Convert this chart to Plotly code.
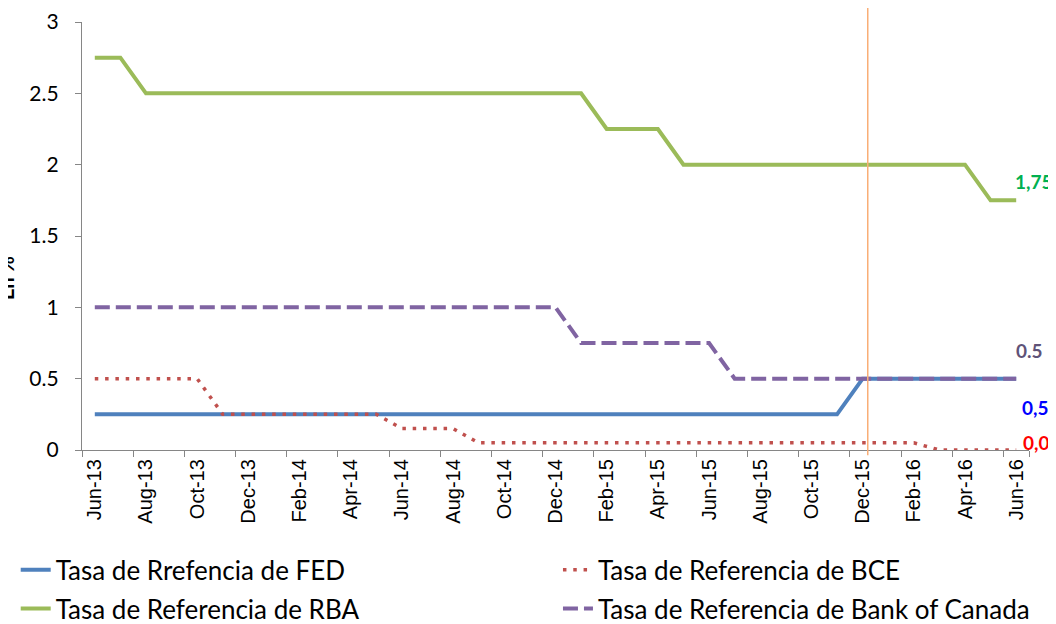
import plotly.graph_objects as go

months = ["Jun-13", "Jul-13", "Aug-13", "Sep-13", "Oct-13", "Nov-13", "Dec-13",
          "Jan-14", "Feb-14", "Mar-14", "Apr-14", "May-14", "Jun-14", "Jul-14",
          "Aug-14", "Sep-14", "Oct-14", "Nov-14", "Dec-14", "Jan-15", "Feb-15",
          "Mar-15", "Apr-15", "May-15", "Jun-15", "Jul-15", "Aug-15", "Sep-15",
          "Oct-15", "Nov-15", "Dec-15", "Jan-16", "Feb-16", "Mar-16", "Apr-16",
          "May-16", "Jun-16"]

tick_labels = ["Jun-13", "Aug-13", "Oct-13", "Dec-13", "Feb-14", "Apr-14", "Jun-14",
               "Aug-14", "Oct-14", "Dec-14", "Feb-15", "Apr-15", "Jun-15", "Aug-15",
               "Oct-15", "Dec-15", "Feb-16", "Apr-16", "Jun-16"]

fed = [0.25, 0.25, 0.25, 0.25, 0.25, 0.25, 0.25, 0.25, 0.25, 0.25,
       0.25, 0.25, 0.25, 0.25, 0.25, 0.25, 0.25, 0.25, 0.25, 0.25,
       0.25, 0.25, 0.25, 0.25, 0.25, 0.25, 0.25, 0.25, 0.25, 0.25,
       0.5, 0.5, 0.5, 0.5, 0.5, 0.5, 0.5]

bce = [0.5, 0.5, 0.5, 0.5, 0.5, 0.25, 0.25, 0.25, 0.25, 0.25,
       0.25, 0.25, 0.15, 0.15, 0.15, 0.05, 0.05, 0.05, 0.05, 0.05,
       0.05, 0.05, 0.05, 0.05, 0.05, 0.05, 0.05, 0.05, 0.05, 0.05,
       0.05, 0.05, 0.05, 0.0, 0.0, 0.0, 0.0]

rba = [2.75, 2.75, 2.5, 2.5, 2.5, 2.5, 2.5, 2.5, 2.5, 2.5,
       2.5, 2.5, 2.5, 2.5, 2.5, 2.5, 2.5, 2.5, 2.5, 2.5,
       2.25, 2.25, 2.25, 2.0, 2.0, 2.0, 2.0, 2.0, 2.0, 2.0,
       2.0, 2.0, 2.0, 2.0, 2.0, 1.75, 1.75]

boc = [1.0, 1.0, 1.0, 1.0, 1.0, 1.0, 1.0, 1.0, 1.0, 1.0,
       1.0, 1.0, 1.0, 1.0, 1.0, 1.0, 1.0, 1.0, 1.0, 0.75,
       0.75, 0.75, 0.75, 0.75, 0.75, 0.5, 0.5, 0.5, 0.5, 0.5,
       0.5, 0.5, 0.5, 0.5, 0.5, 0.5, 0.5]

series_names = ["Tasa de Rrefencia de FED", "Tasa de Referencia de BCE",
                "Tasa de Referencia de RBA", "Tasa de Referencia de Bank of Canada"]

end_labels = ["1,75", "0.5", "0,5", "0,0"]
end_label_y = [1.885, 0.70, 0.30, 0.056]

fed_hike_pos = 30.2  # mid-December 2015

FONT = "Lato, 'Noto Sans', sans-serif"
AXFONT = "'Liberation Sans', Arial, sans-serif"

fig = go.Figure()
fig.add_trace(go.Scatter(x=months, y=fed, mode="lines", name=series_names[0],
                         legend="legend", legendgroup="g1",
                         line=dict(color="#4F81BD", width=4)))
fig.add_trace(go.Scatter(x=months, y=bce, mode="lines", name=series_names[1],
                         legend="legend2", legendgroup="g2",
                         line=dict(color="#C0504D", width=3.5, dash="3.5px,6.8px")))
fig.add_trace(go.Scatter(x=months, y=rba, mode="lines", name=series_names[2],
                         legend="legend", legendgroup="g3",
                         line=dict(color="#9BBB59", width=4)))
fig.add_trace(go.Scatter(x=months, y=boc, mode="lines", name=series_names[3],
                         legend="legend2", legendgroup="g4",
                         line=dict(color="#8064A2", width=4, dash="15px,6px")))

fig.add_shape(type="line", xref="x", yref="paper", x0=fed_hike_pos, x1=fed_hike_pos,
              y0=-0.012, y1=1.033, line=dict(color="#F9AE76", width=1.5), layer="above")

label_colors = ["#00B050", "#5F5378", "#0000FF", "#FF0000"]
label_sizes = [19, 19, 19, 19]
label_shift = [-3, -2, 4, 5]
for txt, yy, col, sz, sh in zip(end_labels, end_label_y, label_colors, label_sizes, label_shift):
    fig.add_annotation(x=36, y=yy, xref="x", yref="y", text="<b>" + txt + "</b>",
                       showarrow=False, xanchor="left", yanchor="middle", xshift=sh,
                       font=dict(family=FONT, size=sz, color=col))

fig.add_annotation(x=0, y=0.402, xref="paper", yref="paper", text="<b>En %</b>",
                   textangle=-90, showarrow=False, xanchor="right", yanchor="middle",
                   xshift=-62, font=dict(family=FONT, size=20, color="#000000"))

legend_common = dict(orientation="v", yanchor="top", xanchor="left",
                     font=dict(family=FONT, size=26, color="#000000"),
                     bgcolor="rgba(0,0,0,0)", traceorder="grouped", tracegroupgap=2)

# page body has an 8px default margin, so the figure is laid out 8px smaller
fig.update_layout(
    width=1048, height=616,
    margin=dict(l=74, r=27, t=14, b=174, autoexpand=False),
    paper_bgcolor="white", plot_bgcolor="white",
    font=dict(family=FONT, size=20, color="#000000"),
    showlegend=True,
    legend=dict(x=-0.070, y=-0.2250, **legend_common),
    legend2=dict(x=0.5026, y=-0.2250, **legend_common),
)

fig.update_xaxes(type="category", range=[-0.5, 36.5], tickmode="array",
                 tickvals=tick_labels, ticktext=tick_labels, tickson="boundaries",
                 tickangle=-90, ticks="outside", ticklen=6, tickcolor="#868686",
                 showline=True, linecolor="#868686", linewidth=1.3,
                 showgrid=False, zeroline=False, automargin=False,
                 tickfont=dict(family=AXFONT, size=20, color="#000000"))

fig.update_yaxes(range=[0, 3], tickvals=[0, 0.5, 1, 1.5, 2, 2.5, 3],
                 ticktext=["0", "0.5", "1", "1.5", "2", "2.5", "3"],
                 ticks="outside", ticklen=6, tickcolor="#868686",
                 showline=True, linecolor="#868686", linewidth=1.3,
                 showgrid=False, zeroline=False, ticklabelstandoff=12, automargin=False,
                 tickfont=dict(family=FONT, size=21, color="#000000"))

fig.write_html("out.html")
